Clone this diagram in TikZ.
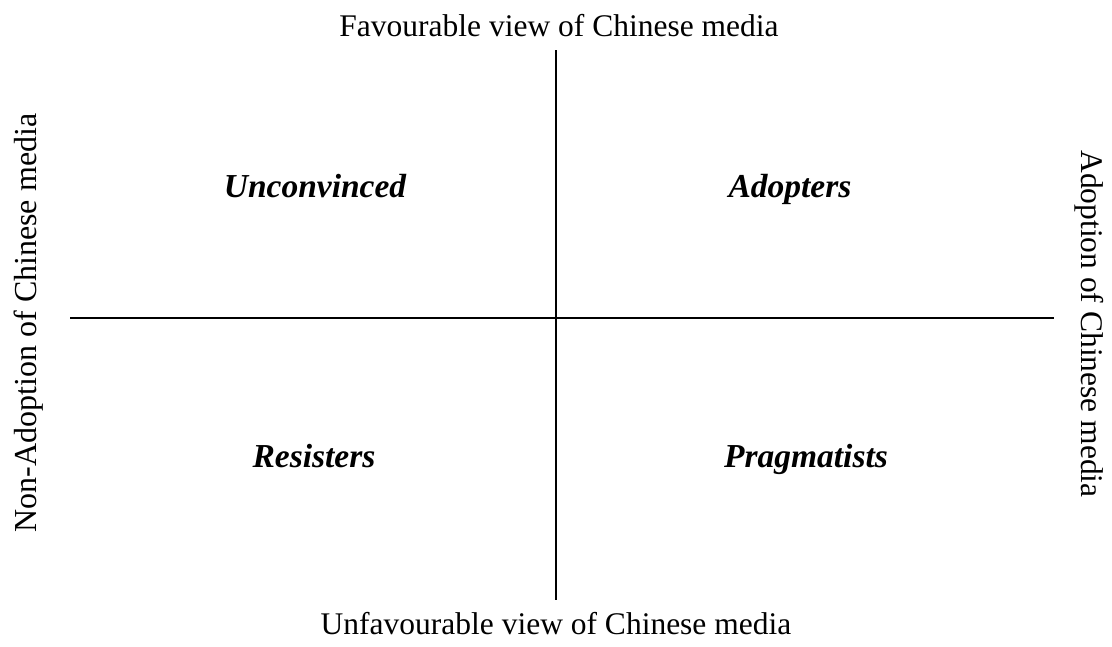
\documentclass[tikz,border=0pt]{standalone}
\usepackage{fontspec}
\setmainfont{Liberation Serif}
\begin{document}
\begin{tikzpicture}[x=1pt,y=-1pt,
  axis/.style={line width=1.8pt,black},
  axlabel/.style={font=\fontsize{31.5}{36}\selectfont,inner sep=0pt,anchor=base},
  quad/.style={font=\fontsize{33.5}{38}\selectfont\bfseries\itshape,inner sep=0pt,anchor=base}]
\useasboundingbox (0,0) rectangle (1112,646);
\coordinate (vt) at (556,50);
\coordinate (vb) at (556,600);
\coordinate (hl) at (70,318);
\coordinate (hr) at (1054,318);
\draw[axis] (vt) -- (vb);
\draw[axis] (hl) -- (hr);
\node[axlabel] (top) at (559,36) {Favourable view of Chinese media};
\node[axlabel] (bot) at (556,634) {Unfavourable view of Chinese media};
\node[axlabel,rotate=90,font=\fontsize{32}{36}\selectfont] (left) at (36,323) {Non-Adoption of Chinese media};
\node[axlabel,rotate=-90] (right) at (1081,324) {Adoption of Chinese media};
\node[quad] (q1) at (315,197) {Unconvinced};
\node[quad] (q2) at (790,197) {Adopters};
\node[quad] (q3) at (314,467) {Resisters};
\node[quad] (q4) at (806,467) {Pragmatists};
\end{tikzpicture}
\end{document}
